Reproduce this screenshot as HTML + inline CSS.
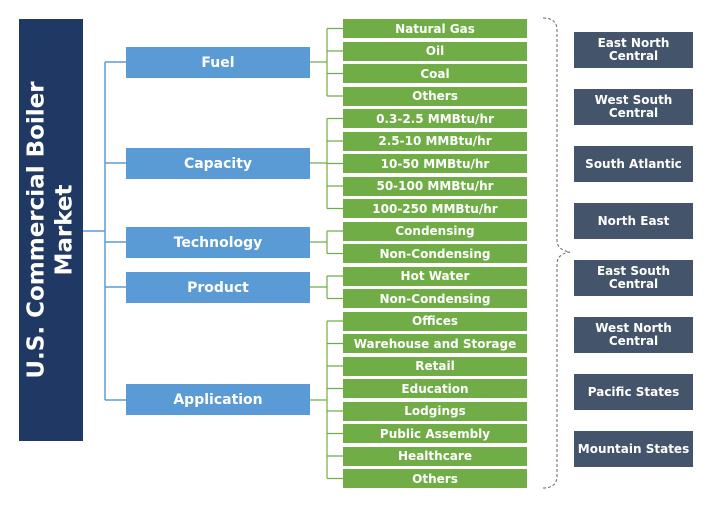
<!DOCTYPE html><html><head><style>
body{margin:0;width:714px;height:508px;background:#fff;position:relative;font-family:"DejaVu Sans","Liberation Sans",sans-serif;font-weight:bold;overflow:hidden}
.b{position:absolute;display:flex;align-items:center;justify-content:center;text-align:center;color:#fff}
.c{background:#5b9bd5;left:126px;width:184px;height:31px;font-size:14px}
.g{background:#70ad47;left:343px;width:184px;height:19px;font-size:12px}
.r{background:#44546a;left:574px;width:119px;height:36px;font-size:12px;line-height:13px}
</style></head><body>
<div class="b" style="left:19px;top:19px;width:64px;height:422px;background:#1f3864"><div style="transform:rotate(-90deg);white-space:nowrap;font-size:23px;line-height:28px">U.S. Commercial Boiler<br>Market</div></div>
<svg width="714" height="508" style="position:absolute;left:0;top:0">
<g stroke="#5b9bd5" stroke-width="1.5" fill="none">
<path d="M83 231H105M105 62V400M105 62H126M105 163H126M105 242H126M105 287H126M105 400H126"/></g>
<g stroke="#70ad47" stroke-width="1.2" fill="none" id="gl"></g>
<path d="M543 18Q557 18 557 30V240Q557 250 570 252Q557 254 557 264V476Q557 488 543 488" stroke="#666" stroke-dasharray="3,2" fill="none"/>
</svg>
<div class="b c" style="top:47px">Fuel</div>
<div class="b c" style="top:148px">Capacity</div>
<div class="b c" style="top:227px">Technology</div>
<div class="b c" style="top:272px">Product</div>
<div class="b c" style="top:384px">Application</div>
<div id="gr"></div>
<div class="b r" style="top:32px">East North<br>Central</div>
<div class="b r" style="top:89px">West South<br>Central</div>
<div class="b r" style="top:146px">South Atlantic</div>
<div class="b r" style="top:203px">North East</div>
<div class="b r" style="top:260px">East South<br>Central</div>
<div class="b r" style="top:317px">West North<br>Central</div>
<div class="b r" style="top:374px">Pacific States</div>
<div class="b r" style="top:431px">Mountain States</div>
<script>
var items=["Natural Gas","Oil","Coal","Others","0.3-2.5 MMBtu/hr","2.5-10 MMBtu/hr","10-50 MMBtu/hr","50-100 MMBtu/hr","100-250 MMBtu/hr","Condensing","Non-Condensing","Hot Water","Non-Condensing","Offices","Warehouse and Storage","Retail","Education","Lodgings","Public Assembly","Healthcare","Others"];
var h="";items.forEach(function(t,i){h+='<div class="b g" style="top:'+(19+i*22.5)+'px">'+t+'</div>';});
document.getElementById("gr").innerHTML=h;
var groups=[[0,3,62],[4,8,163],[9,10,242],[11,12,287],[13,20,400]],d="";
groups.forEach(function(g){var y0=28.5+g[0]*22.5,y1=28.5+g[1]*22.5;d+="M310 "+g[2]+"H327M327 "+y0+"V"+y1;for(var i=g[0];i<=g[1];i++){d+="M327 "+(28.5+i*22.5)+"H343";}});
document.getElementById("gl").innerHTML='<path d="'+d+'"/>';
</script>
</body></html>
